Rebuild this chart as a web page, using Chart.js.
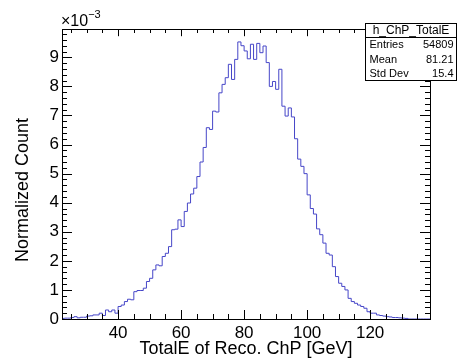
<!DOCTYPE html>
<html>
<head>
<meta charset="utf-8">
<script src="https://cdn.jsdelivr.net/npm/chart.js@4/dist/chart.umd.min.js"></script>
<style>
  html, body { margin: 0; padding: 0; background: #fff; }
  #c { display: block; }
</style>
</head>
<body>
<canvas id="c" width="458" height="359"></canvas>
<script>
// histogram h_ChP_TotalE, 1 GeV bins starting at 22 GeV, values in units of 1e-3
const binStart = 22;
const binWidth = 1;
const counts = [
  0.02, 0.03, 0.03, 0.05, 0.08, 0.04, 0.06, 0.06, 0.10, 0.11,   // 22-31
  0.14, 0.14, 0.20, 0.12, 0.31, 0.25, 0.31, 0.20, 0.43, 0.48,   // 32-41
  0.60, 0.68, 0.66, 0.94, 0.98, 0.98, 1.06, 1.29, 1.40, 1.69,   // 42-51
  1.86, 1.83, 2.15, 2.26, 2.49, 3.07, 3.09, 3.41, 3.18, 3.70,   // 52-61
  3.99, 4.30, 4.50, 4.90, 5.40, 5.90, 6.58, 6.52, 7.15, 7.12,   // 62-71
  7.78, 8.07, 8.30, 8.76, 8.24, 8.93, 9.53, 9.40, 9.22, 8.95,   // 72-81
  9.45, 8.93, 9.48, 9.16, 9.39, 8.82, 8.00, 8.17, 7.90, 8.59,   // 82-91
  7.32, 6.98, 7.26, 6.95, 6.20, 5.50, 5.25, 5.00, 4.27, 3.80,   // 92-101
  3.61, 3.10, 2.90, 2.61, 2.26, 2.20, 1.80, 1.46, 1.23, 1.12,   // 102-111
  1.00, 0.71, 0.60, 0.54, 0.48, 0.43, 0.37, 0.25, 0.20, 0.20,   // 112-121
  0.14, 0.12, 0.10, 0.08, 0.07, 0.05, 0.05, 0.04, 0.03, 0.02,   // 122-131
  0, 0, 0, 0, 0, 0, 0                                           // 132-138
];

const xRange = [22.2, 139];
const yRange = [0, 9.975];
const xTickValues = [40, 60, 80, 100, 120];
const yTickValues = [0, 1, 2, 3, 4, 5, 6, 7, 8, 9];
const xMinorStep = 5;
const yMinorStep = 0.2;

const statsTitle = 'h_ChP_TotalE';
const statsRows = [['Entries', '54809'], ['Mean', '81.21'], ['Std Dev', '15.4']];

const FONT = "'Liberation Sans', Arial, sans-serif";

// outline points for a stepped line
const points = [{ x: binStart, y: 0 }];
counts.forEach((v, i) => points.push({ x: binStart + i * binWidth, y: v }));
points.push({ x: binStart + counts.length * binWidth, y: 0 });

// frame, inward ticks, titles and stats box (ROOT look)
const rootDecor = {
    id: 'rootDecor',
    afterDatasetsDraw(chart) {
        const ctx = chart.ctx;
        const a = chart.chartArea;
        const xs = chart.scales.x, ys = chart.scales.y;
        ctx.save();
        ctx.strokeStyle = '#000';
        ctx.lineWidth = 1;

        ctx.beginPath();
        // x ticks, bottom and top
        for (let v = Math.ceil(xRange[0] / xMinorStep) * xMinorStep; v <= xRange[1]; v += xMinorStep) {
            const px = Math.round(xs.getPixelForValue(v)) + 0.5;
            const len = (v % 20 === 0) ? 9 : 5;
            ctx.moveTo(px, a.bottom); ctx.lineTo(px, a.bottom - len);
            ctx.moveTo(px, a.top); ctx.lineTo(px, a.top + len * 0.8);
        }
        // y ticks, left and right
        for (let k = 0; k * yMinorStep <= yRange[1] + 1e-9; k++) {
            const v = k * yMinorStep;
            const py = Math.round(ys.getPixelForValue(v)) + 0.5;
            const len = (k % 5 === 0) ? 10 : 5;
            ctx.moveTo(a.left, py); ctx.lineTo(a.left + len, py);
            ctx.moveTo(a.right, py); ctx.lineTo(a.right - len, py);
        }
        ctx.stroke();

        // frame
        ctx.strokeRect(Math.round(a.left) + 0.5, Math.round(a.top) + 0.5,
            Math.round(a.right - a.left), Math.round(a.bottom - a.top));

        ctx.fillStyle = '#000';
        // axis titles
        ctx.font = '18px ' + FONT;
        ctx.textAlign = 'center';
        ctx.textBaseline = 'alphabetic';
        ctx.fillText('TotalE of Reco. ChP [GeV]', (a.left + a.right) / 2, 354);
        ctx.save();
        ctx.translate(28, 190);
        ctx.rotate(-Math.PI / 2);
        ctx.fillText('Normalized Count', 0, 0);
        ctx.restore();

        // exponent label
        ctx.textAlign = 'left';
        ctx.font = '16px ' + FONT;
        ctx.fillText('\u00d710', a.left - 1, 26);
        const w = ctx.measureText('\u00d710').width;
        ctx.font = '11px ' + FONT;
        ctx.fillText('\u22123', a.left - 1 + w, 18);

        // stats box
        const bx = 365.5, by = 23.5, bw = 91, bh = 57;
        ctx.fillStyle = '#fff';
        ctx.fillRect(bx, by, bw, bh);
        ctx.strokeRect(bx, by, bw, bh);
        ctx.beginPath();
        ctx.moveTo(bx, 37.5); ctx.lineTo(bx + bw, 37.5);
        ctx.stroke();
        ctx.fillStyle = '#000';
        ctx.font = '12px ' + FONT;
        ctx.textAlign = 'center';
        ctx.textBaseline = 'middle';
        ctx.fillText(statsTitle, bx + bw / 2, 31);
        ctx.font = '11px ' + FONT;
        statsRows.forEach((r, i) => {
            const ry = 45 + i * 14.5;
            ctx.textAlign = 'left';
            ctx.fillText(r[0], bx + 4, ry);
            ctx.textAlign = 'right';
            ctx.fillText(r[1], bx + bw - 3, ry);
        });
        ctx.restore();
    }
};

new Chart(document.getElementById('c'), {
    type: 'line',
    data: {
        datasets: [{
            data: points,
            stepped: 'before',
            borderColor: '#4646c8',
            borderWidth: 1,
            pointRadius: 0,
            fill: false
        }]
    },
    options: {
        responsive: false,
        animation: false,
        devicePixelRatio: 1,
        layout: { padding: { top: 29, right: 28, left: 0, bottom: 0 } },
        plugins: { legend: { display: false }, tooltip: { enabled: false } },
        scales: {
            x: {
                type: 'linear',
                min: xRange[0],
                max: xRange[1],
                grid: { display: false, drawTicks: false },
                border: { display: false },
                afterBuildTicks: s => { s.ticks = xTickValues.map(v => ({ value: v })); },
                afterFit: s => { s.height = 40; },
                ticks: {
                    color: '#000',
                    padding: 4,
                    maxRotation: 0,
                    autoSkip: false,
                    font: { family: FONT, size: 17 }
                }
            },
            y: {
                type: 'linear',
                min: yRange[0],
                max: yRange[1],
                grid: { display: false, drawTicks: false },
                border: { display: false },
                afterBuildTicks: s => { s.ticks = yTickValues.map(v => ({ value: v })); },
                afterFit: s => { s.width = 62; },
                ticks: {
                    color: '#000',
                    padding: 3,
                    autoSkip: false,
                    font: { family: FONT, size: 17 }
                }
            }
        }
    },
    plugins: [rootDecor]
});
</script>
</body>
</html>
